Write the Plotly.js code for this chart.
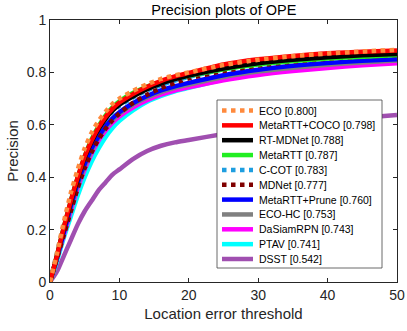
<!DOCTYPE html>
<html>
<head>
<meta charset="utf-8">
<script src="https://cdn.plot.ly/plotly-3.0.1.min.js"></script>
<style>
  html, body { margin: 0; padding: 0; background: #fff; }
  #chart { width: 407px; height: 331px; }
</style>
</head>
<body>
<div id="chart"></div>
<script>
// Location error thresholds (pixels)
const thresholds = [0, 1, 2, 3, 4, 5, 6, 7, 8, 9, 10, 12, 14, 16, 18, 20, 25, 30, 35, 40, 45, 50];

// Precision per tracker
const eco      = [0, 0.11, 0.23, 0.34, 0.43, 0.51, 0.57, 0.615, 0.65, 0.68, 0.70, 0.73, 0.755, 0.775, 0.789, 0.800, 0.828, 0.848, 0.862, 0.872, 0.880, 0.886];
const metaCoco = [0, 0.10, 0.21, 0.31, 0.40, 0.48, 0.54, 0.59, 0.63, 0.662, 0.685, 0.718, 0.745, 0.768, 0.785, 0.798, 0.830, 0.850, 0.863, 0.873, 0.879, 0.884];
const rtMdnet  = [0, 0.10, 0.205, 0.305, 0.395, 0.475, 0.535, 0.584, 0.623, 0.654, 0.677, 0.709, 0.736, 0.757, 0.774, 0.788, 0.815, 0.835, 0.848, 0.858, 0.865, 0.870];
const metaRtt  = [0, 0.10, 0.21, 0.31, 0.40, 0.48, 0.545, 0.595, 0.635, 0.667, 0.69, 0.722, 0.746, 0.764, 0.777, 0.787, 0.812, 0.830, 0.843, 0.853, 0.860, 0.866];
const ccot     = [0, 0.11, 0.22, 0.32, 0.41, 0.48, 0.54, 0.585, 0.62, 0.65, 0.672, 0.705, 0.731, 0.752, 0.769, 0.783, 0.812, 0.833, 0.847, 0.857, 0.865, 0.871];
const mdnet    = [0, 0.09, 0.18, 0.27, 0.36, 0.435, 0.495, 0.545, 0.585, 0.617, 0.643, 0.685, 0.715, 0.74, 0.76, 0.777, 0.805, 0.826, 0.841, 0.852, 0.86, 0.866];
const metaPrune = [0, 0.09, 0.19, 0.29, 0.38, 0.45, 0.51, 0.555, 0.595, 0.625, 0.648, 0.683, 0.71, 0.731, 0.747, 0.760, 0.789, 0.810, 0.825, 0.836, 0.844, 0.850];
const ecoHc    = [0, 0.09, 0.19, 0.28, 0.37, 0.44, 0.50, 0.55, 0.588, 0.618, 0.642, 0.677, 0.704, 0.725, 0.741, 0.753, 0.782, 0.803, 0.818, 0.829, 0.838, 0.845];
const daSiam   = [0, 0.09, 0.18, 0.27, 0.36, 0.43, 0.49, 0.54, 0.578, 0.608, 0.632, 0.667, 0.694, 0.715, 0.731, 0.743, 0.770, 0.790, 0.805, 0.817, 0.827, 0.835];
const ptav     = [0, 0.08, 0.17, 0.25, 0.33, 0.40, 0.46, 0.51, 0.553, 0.588, 0.615, 0.656, 0.688, 0.710, 0.728, 0.741, 0.773, 0.796, 0.813, 0.828, 0.840, 0.850];
const dsst     = [0, 0.04, 0.10, 0.16, 0.22, 0.27, 0.31, 0.35, 0.38, 0.41, 0.43, 0.47, 0.50, 0.52, 0.533, 0.542, 0.565, 0.585, 0.602, 0.616, 0.627, 0.637];

const names = ['ECO [0.800]', 'MetaRTT+COCO [0.798]', 'RT-MDNet [0.788]', 'MetaRTT [0.787]',
               'C-COT [0.783]', 'MDNet [0.777]', 'MetaRTT+Prune [0.760]', 'ECO-HC [0.753]',
               'DaSiamRPN [0.743]', 'PTAV [0.741]', 'DSST [0.542]'];
const series = [eco, metaCoco, rtMdnet, metaRtt, ccot, mdnet, metaPrune, ecoHc, daSiam, ptav, dsst];
const colors = ['#ff8a3d', '#ff0000', '#000000', '#22ee22', '#1e9ee0', '#800000',
                '#0000ff', '#808080', '#ff00ff', '#00ffff', '#a04fb0'];
const dashes = ['dot', 'solid', 'solid', 'solid', 'dot', 'dot', 'solid', 'solid', 'solid', 'solid', 'solid'];

// draw last-ranked first so the leaders sit on top
const traces = [];
for (let i = series.length - 1; i >= 0; i--) {
    traces.push({
        x: thresholds,
        y: series[i],
        name: names[i],
        type: 'scatter',
        mode: 'lines',
        showlegend: false,
        line: { color: colors[i], width: 4.5, dash: dashes[i], shape: 'spline', smoothing: 0.6 }
    });
}

// Plot area in pixels (margins below), used to place the hand-made legend
const plotL = 50, plotR = 397, plotT = 20, plotB = 282;
const px = v => (v - plotL) / (plotR - plotL);
const py = v => (plotB - v) / (plotB - plotT);

// Legend box, drawn by hand so the rows can be packed as tight as the original
const shapes = [{
    type: 'rect', xref: 'paper', yref: 'paper', layer: 'above',
    x0: px(217), x1: px(382), y0: py(268), y1: py(100),
    fillcolor: '#fff', line: { color: '#444', width: 0.8 }
}];
const annotations = [];
const rowTop = 110.5, rowStep = 14.85;
names.forEach((name, i) => {
    const yRow = rowTop + i * rowStep;
    shapes.push({
        type: 'line', xref: 'paper', yref: 'paper', layer: 'above',
        x0: px(222), x1: px(253), y0: py(yRow), y1: py(yRow),
        line: { color: colors[i], width: 4.5, dash: dashes[i] }
    });
    annotations.push({
        xref: 'paper', yref: 'paper', x: px(257), y: py(yRow),
        xanchor: 'left', yanchor: 'middle', showarrow: false,
        text: name, font: { size: 10.5, color: '#000' }
    });
});

const axisStyle = {
    showline: true,
    mirror: 'ticks',
    linecolor: '#262626',
    linewidth: 1,
    ticks: 'inside',
    ticklen: 4,
    tickcolor: '#262626',
    showgrid: false,
    zeroline: false,
    tickfont: { size: 14, color: '#262626' }
};

const layout = {
    width: 407,
    height: 331,
    margin: { l: plotL, r: 407 - plotR, t: plotT, b: 331 - plotB },
    paper_bgcolor: '#fff',
    plot_bgcolor: '#fff',
    font: { family: 'Liberation Sans, Arial, sans-serif', color: '#262626' },
    title: { text: 'Precision plots of OPE', font: { size: 14.5, color: '#000' }, x: 0.55, y: 0.97, xanchor: 'center', yanchor: 'middle' },
    xaxis: Object.assign({}, axisStyle, {
        range: [0, 50], tickvals: [0, 10, 20, 30, 40, 50],
        title: { text: 'Location error threshold', font: { size: 15, color: '#262626' }, standoff: 6 }
    }),
    yaxis: Object.assign({}, axisStyle, {
        range: [0, 1], tickvals: [0, 0.2, 0.4, 0.6, 0.8, 1],
        ticktext: ['0', '0.2', '0.4', '0.6', '0.8', '1'],
        title: { text: 'Precision', font: { size: 15, color: '#262626' }, standoff: 4 }
    }),
    showlegend: false,
    shapes: shapes,
    annotations: annotations
};

Plotly.newPlot('chart', traces, layout, { displayModeBar: false, staticPlot: true });
</script>
</body>
</html>
